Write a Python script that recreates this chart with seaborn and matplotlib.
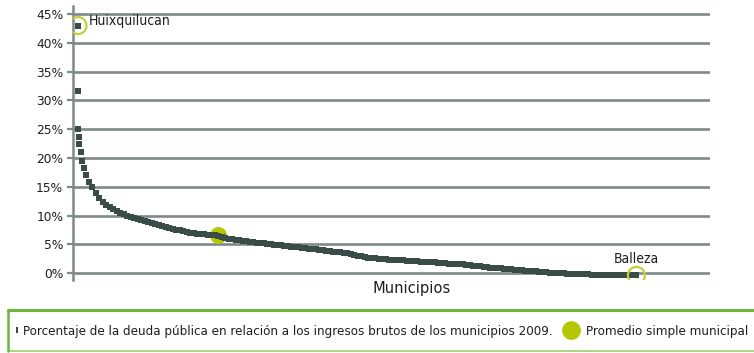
import numpy as np
import pandas as pd
import seaborn as sns
import matplotlib.pyplot as plt
from matplotlib.lines import Line2D
from matplotlib.patches import Rectangle
from matplotlib import font_manager

# Ranking of municipalities by debt as % of gross income (2009)
head_rank = [1, 2, 3, 4, 7, 13, 18, 27, 37, 48, 62, 77, 91, 107, 123]
head_pct = [43.0, 31.7, 25.1, 23.6, 22.5, 21.0, 19.5, 18.2, 17.1, 15.9,
            14.9, 14.0, 13.1, 12.3, 11.8]

tail_first_rank = 138
tail_rank_step = 15
tail_pct = [
    11.4, 11.1, 10.75, 10.45, 10.2, 9.95, 9.75, 9.55, 9.4, 9.2,
    9.0, 8.8, 8.65, 8.5, 8.35, 8.15, 7.95, 7.85, 7.7, 7.55,
    7.45, 7.3, 7.15, 7.05, 6.95, 6.85, 6.8, 6.75, 6.7, 6.65,
    6.6, 6.5, 6.3, 6.1, 6.0, 5.9, 5.8, 5.7, 5.6, 5.5,
    5.4, 5.35, 5.3, 5.2, 5.15, 5.05, 5.0, 4.95, 4.9, 4.85,
    4.75, 4.7, 4.6, 4.55, 4.45, 4.4, 4.3, 4.25, 4.15, 4.1,
    4.05, 3.95, 3.9, 3.8, 3.7, 3.65, 3.6, 3.5, 3.45, 3.35,
    3.2, 3.05, 2.9, 2.8, 2.65, 2.6, 2.55, 2.5, 2.45, 2.4,
    2.35, 2.3, 2.3, 2.25, 2.2, 2.15, 2.1, 2.05, 2.05, 2.0,
    1.95, 1.9, 1.9, 1.85, 1.8, 1.75, 1.7, 1.65, 1.6, 1.6,
    1.55, 1.5, 1.45, 1.4, 1.3, 1.25, 1.15, 1.1, 1.0, 0.95,
    0.9, 0.85, 0.8, 0.75, 0.7, 0.65, 0.6, 0.55, 0.5, 0.45,
    0.4, 0.35, 0.3, 0.25, 0.2, 0.15, 0.1, 0.05, 0.0, -0.05,
    -0.05, -0.1, -0.1, -0.15, -0.15, -0.2, -0.2, -0.2, -0.25, -0.25,
    -0.25, -0.3, -0.3, -0.3, -0.3, -0.35, -0.35, -0.35, -0.35, -0.4,
    -0.4,
]

top_name, top_rank, top_pct = "Huixquilucan", 1, 43.0
low_name, low_rank, low_pct = "Balleza", 2400, -0.4
mean_rank, mean_pct = 602, 6.55

yticks = [0, 5, 10, 15, 20, 25, 30, 35, 40, 45]
ytick_labels = [f"{v}%" for v in yticks]

series_label = ("Porcentaje de la deuda pública en relación a los ingresos "
                "brutos de los municipios 2009.")
mean_label = "Promedio simple municipal"
xlabel = "Municipios"

tail_rank = list(range(tail_first_rank,
                       tail_first_rank + tail_rank_step * len(tail_pct),
                       tail_rank_step))
df = pd.DataFrame({
    "rank": head_rank + tail_rank + [low_rank],
    "pct": head_pct + tail_pct + [low_pct],
})

sns.set_style("white")
plt.rcParams["font.family"] = ["DejaVu Sans"]

# narrow face for the labels (condensed DejaVu when the system has it)
condensed = None
for f in font_manager.fontManager.ttflist:
    if f.name == "DejaVu Sans" and "ondensed" in f.fname \
            and f.weight in (400, "normal") and f.style == "normal":
        condensed = f.fname
        break
lbl_size = 9.5 if condensed else 8.2


def label_font(size):
    if condensed:
        return font_manager.FontProperties(fname=condensed, size=size)
    return font_manager.FontProperties(family="DejaVu Sans", size=size)


DARK = "#3a4c47"
GRID = "#7e8a87"
LIME = "#b4c700"
RING = "#c3cf3c"
TXT = "#1e1e1e"

fig = plt.figure(figsize=(7.54, 3.53), dpi=100)
ax = fig.add_axes([73 / 754, 1 - 280 / 353, (710 - 73) / 754, 274 / 353])

# grid
ax.set_yticks(yticks)
ax.set_yticklabels(ytick_labels, fontsize=8.8, color=TXT)
ax.yaxis.grid(True, color=GRID, linewidth=1.9)
ax.xaxis.grid(False)
ax.set_axisbelow(True)
ax.tick_params(axis="y", length=4.6, width=1.6, color=GRID, pad=2.4,
               left=True)
ax.tick_params(axis="x", bottom=False, labelbottom=False)
for s in ["top", "right", "bottom"]:
    ax.spines[s].set_visible(False)
ax.spines["left"].set_color(GRID)
ax.spines["left"].set_linewidth(1.8)

# mean marker (below the series)
sns.scatterplot(x=[mean_rank], y=[mean_pct], ax=ax, s=150, color=LIME,
                marker="o", linewidth=0, zorder=2, legend=False)

# ranked series
sns.scatterplot(data=df, x="rank", y="pct", ax=ax, marker="s", s=21,
                color=DARK, linewidth=0, zorder=3, legend=False)

# highlighted extremes
sns.scatterplot(x=[top_rank, low_rank], y=[top_pct, low_pct], ax=ax, s=150,
                marker="o", facecolor="none", edgecolor=RING, linewidth=1.6,
                zorder=4, legend=False)

ax.annotate(top_name, xy=(top_rank, top_pct), xytext=(7.5, 3.2),
            textcoords="offset points", ha="left", va="center",
            fontproperties=label_font(lbl_size + 0.5), color=TXT)
ax.annotate(low_name, xy=(low_rank, low_pct), xytext=(-16, 12),
            textcoords="offset points", ha="left", va="center",
            fontproperties=label_font(lbl_size + 0.5), color=TXT)

ax.set_xlim(-20.5, 2716)
ax.set_ylim(-1.2, 46.4)
ax.set_ylabel("")
ax.set_xlabel(xlabel, fontproperties=label_font(lbl_size + 2.3), color=TXT)
ax.xaxis.label.set_visible(True)
ax.xaxis.set_label_coords(0.531, -0.004)

# legend box
fig.add_artist(Line2D([8 / 754, 1.01], [1 - 309.5 / 353] * 2,
                      transform=fig.transFigure, color="#6db53c", lw=2.2))
fig.add_artist(Line2D([8 / 754, 1.01], [1 - 351 / 353] * 2,
                      transform=fig.transFigure, color="#a9d57f", lw=1.4))
fig.add_artist(Line2D([8 / 754] * 2, [1 - 351 / 353, 1 - 309.5 / 353],
                      transform=fig.transFigure, color="#6db53c", lw=1.8))

rect_marker = [(-0.35, -1), (0.35, -1), (0.35, 1), (-0.35, 1), (-0.35, -1)]
h1 = Line2D([], [], linestyle="none", marker=rect_marker, markersize=5,
            color=DARK, markeredgewidth=0)
h2 = Line2D([], [], linestyle="none", marker="o", markersize=13.5,
            color=LIME, markeredgewidth=0)
leg1 = fig.legend([h1], [series_label], loc="center left",
                  bbox_to_anchor=(13 / 754, 1 - 331.5 / 353), frameon=False,
                  prop=label_font(lbl_size), handlelength=0.6,
                  handletextpad=0.15, borderpad=0, borderaxespad=0,
                  labelcolor=TXT)
leg2 = fig.legend([h2], [mean_label], loc="center left",
                  bbox_to_anchor=(562 / 754, 1 - 331.5 / 353), frameon=False,
                  prop=label_font(lbl_size), handlelength=1.4,
                  handletextpad=0.45, borderpad=0, borderaxespad=0,
                  labelcolor=TXT)

fig.savefig("out.png", dpi=100)
